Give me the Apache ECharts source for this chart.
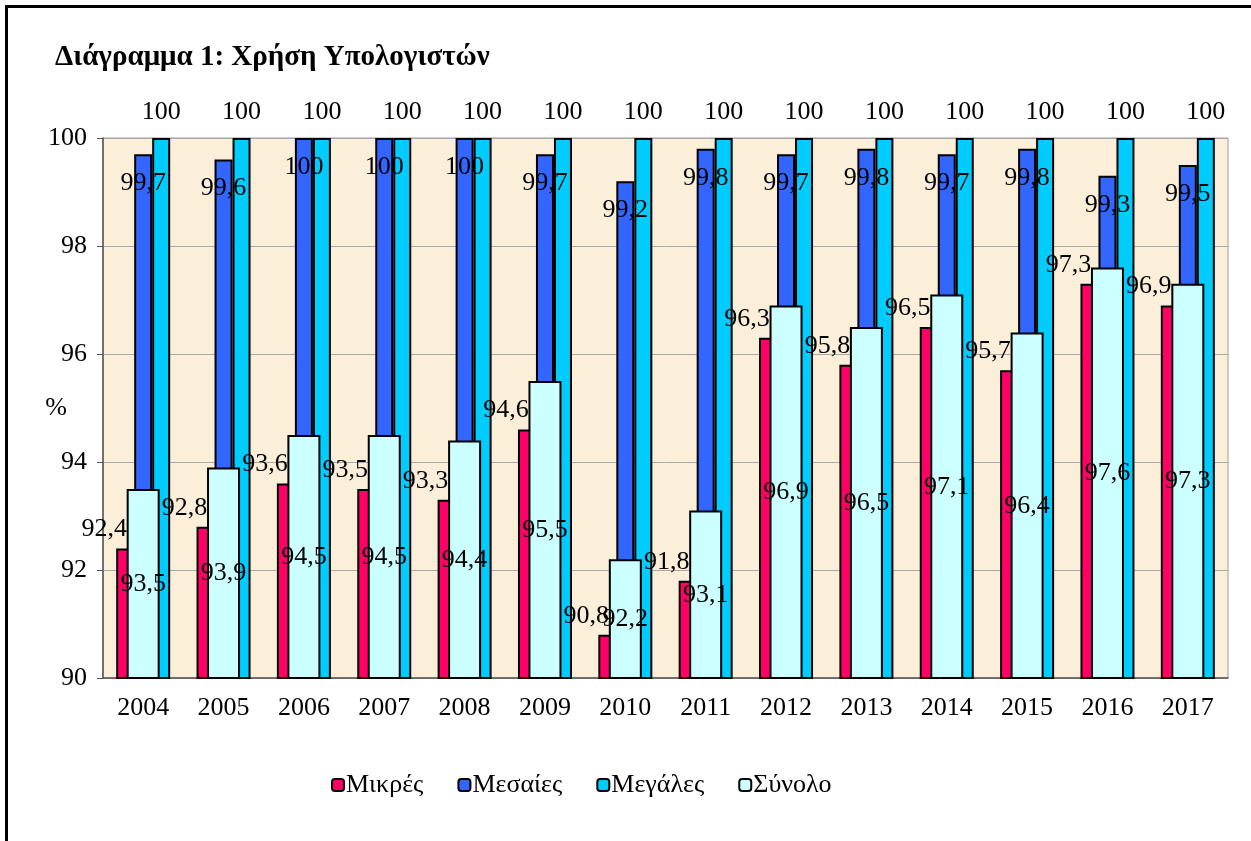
<!DOCTYPE html>
<html>
<head>
<meta charset="utf-8">
<script src="https://cdn.jsdelivr.net/npm/echarts@6/dist/echarts.min.js"></script>
<style>
  html, body { margin: 0; padding: 0; background: #fff; }
  #frame {
    position: absolute; left: 5px; top: 5px; width: 1260px; height: 850px;
    border-left: 3px solid #000; border-top: 3px solid #000;
  }
  #chart { position: absolute; left: 0; top: 0; width: 1251px; height: 841px; }
</style>
</head>
<body>
<div id="frame"></div>
<div id="chart"></div>
<script>
const years = ['2004', '2005', '2006', '2007', '2008', '2009', '2010',
  '2011', '2012', '2013', '2014', '2015', '2016', '2017']
const small = [92.4, 92.8, 93.6, 93.5, 93.3, 94.6, 90.8, 91.8, 96.3, 95.8, 96.5, 95.7, 97.3, 96.9]
const medium = [99.7, 99.6, 100, 100, 100, 99.7, 99.2, 99.8, 99.7, 99.8, 99.7, 99.8, 99.3, 99.5]
const large = [100, 100, 100, 100, 100, 100, 100, 100, 100, 100, 100, 100, 100, 100]
const total = [93.5, 93.9, 94.5, 94.5, 94.4, 95.5, 92.2, 93.1, 96.9, 96.5, 97.1, 96.4, 97.6, 97.3]

const serif = '"Liberation Serif", "DejaVu Serif", serif'
const fmt = p => String(p.value).replace('.', ',')
const labelText = { fontFamily: serif, fontSize: 26, color: '#000' }
const border = { borderColor: '#000', borderWidth: 2 }

const chart = echarts.init(document.getElementById('chart'))

chart.setOption({
  animation: false,
  title: {
    text: 'Διάγραμμα 1: Χρήση Υπολογιστών',
    left: 50,
    top: 38,
    textStyle: { fontFamily: serif, fontSize: 29, fontWeight: 'bold', color: '#000' }
  },
  legend: {
    left: 326,
    top: 767,
    itemWidth: 12,
    itemHeight: 12,
    itemGap: 34,
    itemStyle: { borderColor: '#000', borderWidth: 2 },
    textStyle: { fontFamily: serif, fontSize: 26, color: '#000', padding: [0, 0, 0, -3] },
    data: ['Μικρές', 'Μεσαίες', 'Μεγάλες', 'Σύνολο']
  },
  grid: {
    left: 103,
    right: 23,
    top: 138,
    bottom: 163,
    show: true,
    backgroundColor: '#FCEFD9',
    borderColor: '#9a9a9a',
    borderWidth: 1
  },
  xAxis: [
    {
      type: 'category',
      data: years,
      axisLine: { lineStyle: { color: '#555', width: 1.5 } },
      axisTick: { length: 8, lineStyle: { color: '#555' } },
      axisLabel: { margin: 17, fontFamily: serif, fontSize: 26, color: '#000' }
    },
    {
      type: 'category',
      data: years,
      show: false
    }
  ],
  yAxis: {
    type: 'value',
    min: 90,
    max: 100,
    interval: 2,
    name: '%',
    nameLocation: 'middle',
    nameRotate: 0,
    nameGap: 36,
    nameMoveOverlap: false,
    nameTextStyle: { fontFamily: serif, fontSize: 26, color: '#000', padding: [0, 0, 30, 0] },
    axisLine: { show: true, lineStyle: { color: '#555', width: 1.5 } },
    axisTick: { show: true, length: 6, lineStyle: { color: '#555' } },
    axisLabel: { margin: 16, fontFamily: serif, fontSize: 26, color: '#000' },
    splitLine: { lineStyle: { color: '#a8a8a8' } }
  },
  series: [
    {
      name: 'Μικρές',
      type: 'bar',
      xAxisIndex: 0,
      data: small,
      barWidth: 18,
      barGap: '0%',
      itemStyle: Object.assign({ color: '#FF0066' }, border),
      label: Object.assign({ show: true, position: 'top', distance: 6, offset: [-21, 0], formatter: fmt }, labelText)
    },
    {
      name: 'Μεσαίες',
      type: 'bar',
      xAxisIndex: 0,
      data: medium,
      barWidth: 18,
      barGap: '0%',
      itemStyle: Object.assign({ color: '#3366FF' }, border),
      label: Object.assign({ show: true, position: 'insideTop', distance: 16, formatter: fmt }, labelText)
    },
    {
      name: 'Μεγάλες',
      type: 'bar',
      xAxisIndex: 0,
      data: large,
      barWidth: 18,
      barGap: '0%',
      itemStyle: Object.assign({ color: '#00CCFF' }, border),
      label: Object.assign({ show: true, position: 'top', distance: 13, formatter: fmt }, labelText)
    },
    {
      name: 'Σύνολο',
      type: 'bar',
      xAxisIndex: 1,
      data: total,
      barWidth: 33,
      itemStyle: Object.assign({ color: '#CCFFFF' }, border),
      label: Object.assign({ show: true, position: 'inside', formatter: fmt }, labelText)
    }
  ]
})
</script>
</body>
</html>
